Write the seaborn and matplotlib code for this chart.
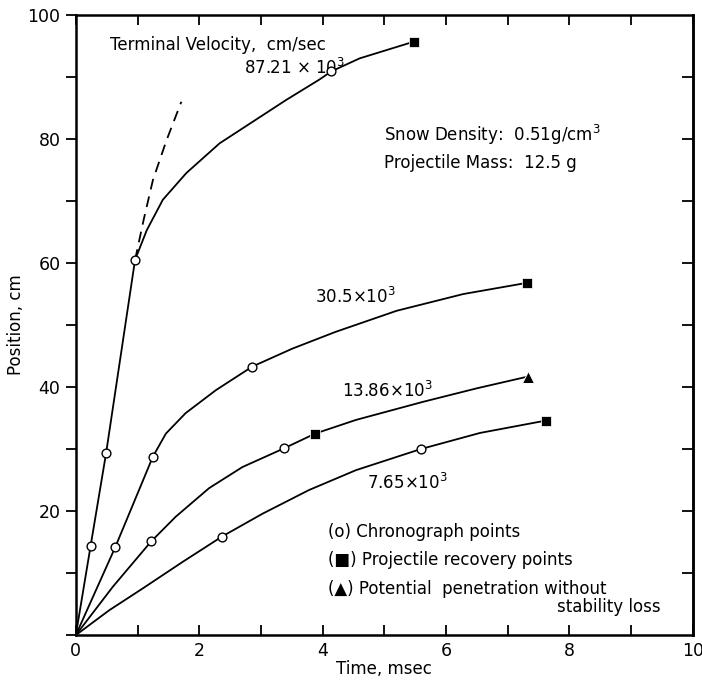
import numpy as np
import pandas as pd
import matplotlib
matplotlib.use('Agg')
import matplotlib.pyplot as plt
import seaborn as sns

# curve paths (time msec, position cm)
t_8721 = [0, 0.24, 0.49, 0.96, 1.15, 1.41, 1.79, 2.33, 2.87, 3.41, 3.95, 4.14, 4.60, 5.48]
p_8721 = [0, 14.4, 29.3, 60.5, 65.3, 70.2, 74.5, 79.3, 82.8, 86.3, 89.6, 90.9, 93.0, 95.7]
t_dash = [0.96, 1.10, 1.25, 1.47, 1.71]
p_dash = [60.5, 67.0, 73.4, 79.8, 86.0]
t_305 = [0, 0.64, 1.25, 1.46, 1.78, 2.27, 2.86, 3.51, 4.21, 5.20, 6.28, 7.31]
p_305 = [0, 14.2, 28.8, 32.5, 35.8, 39.5, 43.3, 46.2, 48.9, 52.3, 55.0, 56.8]
t_1386 = [0, 0.6, 1.22, 1.62, 2.16, 2.70, 3.37, 3.88, 4.54, 5.62, 6.5, 7.33]
p_1386 = [0, 7.8, 15.1, 19.1, 23.7, 27.1, 30.1, 32.5, 34.7, 37.6, 39.8, 41.7]
t_765 = [0, 0.54, 1.08, 1.73, 2.37, 3.03, 3.78, 4.54, 5.59, 6.55, 7.62]
p_765 = [0, 4.0, 7.5, 11.8, 15.9, 19.6, 23.4, 26.6, 30.0, 32.6, 34.6]

# measured points
chrono_t = [0.24, 0.49, 0.96, 4.14, 0.64, 1.25, 2.86, 1.22, 3.37, 2.37, 5.59]
chrono_p = [14.4, 29.3, 60.5, 90.9, 14.2, 28.8, 43.3, 15.1, 30.1, 15.9, 30.0]
recov_t = [5.48, 7.31, 3.88, 7.62]
recov_p = [95.7, 56.8, 32.5, 34.6]
poten_t = [7.33]
poten_p = [41.7]

sns.set_theme(style='ticks')
plt.rcParams['font.family'] = ['DejaVu Sans']
plt.rcParams['text.color'] = 'black'
plt.rcParams['axes.labelcolor'] = 'black'
plt.rcParams['xtick.color'] = 'black'
plt.rcParams['ytick.color'] = 'black'
plt.rcParams['axes.edgecolor'] = 'black'

fig = plt.figure(figsize=(7.02, 6.80), dpi=100)
ax = fig.add_axes([0.108, 0.066, 0.879, 0.912])

for t, p in [(t_8721, p_8721), (t_305, p_305), (t_1386, p_1386), (t_765, p_765)]:
    sns.lineplot(x=t, y=p, sort=False, color='black', lw=1.3, ax=ax)
sns.lineplot(x=t_dash, y=p_dash, sort=False, color='black', lw=1.3, ax=ax)
ax.lines[-1].set_dashes([6, 4])

sns.scatterplot(x=chrono_t, y=chrono_p, marker='o', s=40, facecolor='white',
                edgecolor='black', linewidth=1.0, ax=ax, zorder=5)
sns.scatterplot(x=recov_t, y=recov_p, marker='s', s=45, color='black', ax=ax, zorder=5)
sns.scatterplot(x=poten_t, y=poten_p, marker='^', s=75, color='black', ax=ax, zorder=5)

ax.set_xlim(0, 10)
ax.set_ylim(0, 100)
ax.set_xticks([0, 2, 4, 6, 8, 10])
ax.set_xticklabels(['0', '2', '4', '6', '8', '10'])
ax.set_yticks([0, 20, 40, 60, 80, 100])
ax.set_yticklabels(['', '20', '40', '60', '80', '100'])
ax.set_xticks([1, 3, 5, 7, 9], minor=True)
ax.set_yticks([10, 30, 50, 70, 90], minor=True)
ax.tick_params(axis='x', which='both', direction='in', top=True, length=7, width=1.3,
               labelsize=12.5, pad=5)
ax.tick_params(axis='y', which='both', direction='out', length=7, width=1.3,
               labelsize=12.5, pad=4)
right = ax.secondary_yaxis('right')
right.set_yticks([10, 20, 30, 40, 50, 60, 70, 80, 90])
right.tick_params(direction='in', length=8, width=1.3, labelright=False)
for s in ax.spines.values():
    s.set_linewidth(1.8)
right.spines['right'].set_linewidth(1.8)

ax.set_xlabel('Time, msec', fontsize=12, labelpad=0)
ax.set_ylabel('Position, cm', fontsize=12, labelpad=2)

fs = 12
ax.text(0.55, 95.2, 'Terminal Velocity,  cm/sec', fontsize=fs, va='center')
ax.text(2.72, 91.4, r'87.21 $\times$ 10$^3$', fontsize=fs, va='center')
ax.text(3.87, 54.6, r'30.5$\times$10$^3$', fontsize=fs, va='center')
ax.text(4.31, 39.3, r'13.86$\times$10$^3$', fontsize=fs, va='center')
ax.text(4.72, 24.6, r'7.65$\times$10$^3$', fontsize=fs, va='center')
ax.text(5.0, 80.6, r'Snow Density:  0.51g/cm$^3$', fontsize=fs, va='center')
ax.text(5.0, 76.2, 'Projectile Mass:  12.5 g', fontsize=fs, va='center')
ax.text(4.08, 16.6, '(o) Chronograph points', fontsize=fs, va='center')
ax.text(4.08, 12.1, '(\u25a0) Projectile recovery points', fontsize=fs, va='center')
ax.text(4.08, 7.4, '(\u25b2) Potential  penetration without', fontsize=fs, va='center')
ax.text(9.47, 4.5, 'stability loss', fontsize=fs, va='center', ha='right')

fig.savefig('out.png', dpi=100)
